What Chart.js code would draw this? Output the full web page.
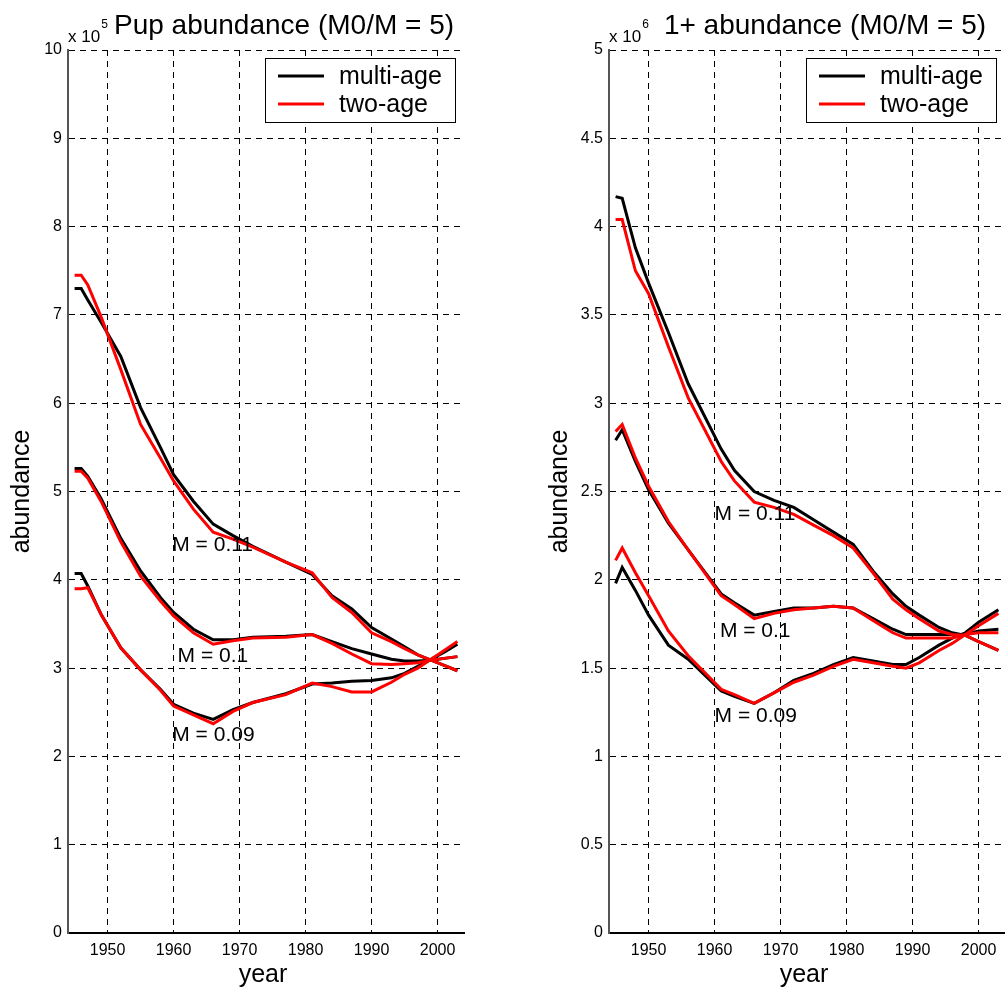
<!DOCTYPE html>
<html>
<head>
<meta charset="utf-8">
<script src="https://cdn.jsdelivr.net/npm/chart.js@4"></script>
<style>
body{margin:0;background:#fff;}
#wrap{position:relative;width:1005px;height:994px;overflow:hidden;background:#fff;}
#pup{position:absolute;left:0;top:0;}
#adult{position:absolute;left:541px;top:0;}
</style>
</head>
<body>
<div id="wrap">
<canvas id="pup" width="520" height="994"></canvas>
<canvas id="adult" width="464" height="994"></canvas>
</div>
<script>
// pup abundance, units of 10^5
const yearsPup = [1945,1946,1947,1949,1952,1955,1958,1960,1963,1966,1969,1972,1977,1981,1984,1987,1990,1993,1995,1997,1999,2001,2003];
const pupMulti11 = [7.30,7.30,7.17,6.92,6.53,5.95,5.50,5.19,4.89,4.63,4.50,4.38,4.20,4.06,3.82,3.67,3.46,3.33,3.24,3.15,3.09,3.03,2.97];
const pupTwo11   = [7.45,7.45,7.34,6.98,6.38,5.76,5.38,5.12,4.80,4.54,4.46,4.37,4.20,4.08,3.80,3.63,3.40,3.30,3.22,3.15,3.09,3.03,2.97];
const pupMulti10 = [5.26,5.26,5.17,4.92,4.47,4.10,3.80,3.63,3.44,3.32,3.32,3.35,3.36,3.38,3.30,3.22,3.16,3.10,3.08,3.08,3.09,3.11,3.13];
const pupTwo10   = [5.23,5.23,5.15,4.89,4.43,4.04,3.76,3.59,3.40,3.27,3.31,3.34,3.35,3.38,3.28,3.16,3.05,3.04,3.05,3.06,3.09,3.11,3.13];
const pupMulti09 = [4.07,4.07,3.93,3.61,3.23,2.98,2.76,2.59,2.49,2.42,2.53,2.61,2.71,2.82,2.83,2.85,2.86,2.89,2.94,3.02,3.10,3.18,3.27];
const pupTwo09   = [3.90,3.90,3.91,3.61,3.23,2.98,2.75,2.57,2.47,2.37,2.51,2.61,2.70,2.83,2.79,2.73,2.73,2.84,2.93,3.00,3.10,3.20,3.30];

// 1+ abundance, units of 10^6
const yearsAdult = [1945,1946,1948,1950,1953,1956,1961,1963,1966,1969,1972,1975,1978,1981,1984,1987,1989,1991,1994,1996,1998,2000,2003];
const adultMulti11 = [4.17,4.16,3.88,3.68,3.40,3.11,2.74,2.62,2.50,2.45,2.41,2.34,2.27,2.20,2.05,1.92,1.85,1.80,1.73,1.70,1.685,1.65,1.60];
const adultTwo11   = [4.04,4.04,3.75,3.62,3.32,3.03,2.67,2.56,2.44,2.41,2.37,2.31,2.25,2.18,2.04,1.89,1.83,1.78,1.71,1.69,1.685,1.65,1.60];
const adultMulti10 = [2.79,2.85,2.67,2.51,2.32,2.17,1.92,1.87,1.80,1.82,1.84,1.84,1.85,1.84,1.78,1.72,1.69,1.69,1.69,1.69,1.69,1.71,1.72];
const adultTwo10   = [2.84,2.88,2.69,2.53,2.33,2.17,1.91,1.86,1.78,1.81,1.83,1.84,1.85,1.84,1.77,1.70,1.67,1.67,1.67,1.67,1.69,1.70,1.70];
const adultMulti09 = [1.98,2.07,1.94,1.80,1.63,1.55,1.37,1.34,1.30,1.36,1.43,1.47,1.52,1.56,1.54,1.52,1.52,1.56,1.63,1.67,1.70,1.76,1.83];
const adultTwo09   = [2.11,2.18,2.04,1.91,1.71,1.57,1.38,1.35,1.30,1.36,1.42,1.46,1.51,1.55,1.53,1.51,1.50,1.53,1.60,1.64,1.69,1.74,1.81];

const xTickYears = [1950, 1960, 1970, 1980, 1990, 2000];
const seriesNames = ['multi-age', 'two-age'];
const mText = ['M = 0.11', 'M = 0.1', 'M = 0.09'];
const pupLabelYear = [1959.8, 1960.6, 1959.8];
const pupLabelVal = [4.39, 3.14, 2.24];
const adultLabelYear = [1960, 1960.8, 1960];
const adultLabelVal = [2.37, 1.71, 1.23];

const FONT = '"Liberation Sans", Arial, Helvetica, sans-serif';

function pts(xs, ys) {
  return xs.map((x, i) => ({x: x, y: ys[i]}));
}

// titles, exponent, axis labels, M labels and legend
const deco = {
  id: 'deco',
  afterDraw(chart, args, o) {
    const ctx = chart.ctx, a = chart.chartArea;
    const xs = chart.scales.x, ys = chart.scales.y;
    ctx.save();
    ctx.fillStyle = '#000';
    ctx.textAlign = 'center';
    ctx.textBaseline = 'alphabetic';
    ctx.font = '28px ' + FONT;
    ctx.fillText(o.title, a.left + 216, 34);

    ctx.textAlign = 'left';
    ctx.font = '17px ' + FONT;
    ctx.fillText('x 10', a.left, 42);
    const w = ctx.measureText('x 10').width;
    ctx.font = '12px ' + FONT;
    ctx.fillText(o.exp, a.left + w + 1, 28);

    ctx.font = '25px ' + FONT;
    ctx.textAlign = 'center';
    ctx.fillText('year', (a.left + a.right) / 2 - 3, 982);
    ctx.save();
    ctx.translate(a.left - o.ylabOff, (a.top + a.bottom) / 2);
    ctx.rotate(-Math.PI / 2);
    ctx.textBaseline = 'middle';
    ctx.fillText('abundance', 0, 0);
    ctx.restore();

    ctx.font = '21px ' + FONT;
    ctx.textAlign = 'left';
    ctx.textBaseline = 'middle';
    mText.forEach((t, i) => {
      ctx.fillText(t, xs.getPixelForValue(o.labYear[i]), ys.getPixelForValue(o.labVal[i]));
    });

    // legend box
    const lx = a.left + 197, ly = 58, lw = 190, lh = 64;
    ctx.fillStyle = '#fff';
    ctx.fillRect(lx, ly, lw, lh);
    ctx.strokeStyle = '#000';
    ctx.lineWidth = 1;
    ctx.strokeRect(lx + 0.5, ly + 0.5, lw, lh);
    const cols = [chart.data.datasets[1].borderColor, chart.data.datasets[0].borderColor];
    ctx.font = '25px ' + FONT;
    seriesNames.forEach((n, i) => {
      const y = ly + 18 + i * 28;
      ctx.strokeStyle = cols[i];
      ctx.lineWidth = 3;
      ctx.beginPath();
      ctx.moveTo(lx + 13, y);
      ctx.lineTo(lx + 59, y);
      ctx.stroke();
      ctx.fillStyle = '#000';
      ctx.fillText(n, lx + 74, y + 1);
    });
    ctx.restore();
  }
};

function makeChart(id, years, multi, two, ymax, step, deco_opts) {
  const ds = [];
  for (let i = 0; i < 3; i++) {
    ds.push({label: 'two-age', data: pts(years, two[i]), borderColor: '#ff0000', order: 0});
    ds.push({label: 'multi-age', data: pts(years, multi[i]), borderColor: '#000000', order: 1});
  }
  ds.forEach(d => { d.borderWidth = 3; d.pointRadius = 0; d.fill = false; d.tension = 0; });

  return new Chart(document.getElementById(id), {
    type: 'line',
    data: {datasets: ds},
    options: {
      responsive: false,
      animation: false,
      devicePixelRatio: 1,
      layout: {padding: {top: 50, left: 0, right: deco_opts.padRight, bottom: 0}},
      plugins: {legend: {display: false}, tooltip: {enabled: false}, deco: deco_opts},
      scales: {
        x: {
          type: 'linear', min: 1944, max: 2004,
          afterBuildTicks: s => { s.ticks = xTickYears.map(v => ({value: v})); },
          ticks: {autoSkip: false, maxRotation: 0,
            callback: v => String(v), color: '#000', font: {family: FONT, size: 16}, padding: 8},
          grid: {color: '#000', lineWidth: 1, drawTicks: false},
          border: {color: '#000', width: 2, dash: [6, 5]},
          afterFit: s => { s.height = 61; s.paddingLeft = 0; s.paddingRight = 0; }
        },
        y: {
          min: 0, max: ymax,
          ticks: {stepSize: step, callback: v => String(+v.toFixed(1)), color: '#000',
            font: {family: FONT, size: 16}, padding: 6},
          grid: {color: '#000', lineWidth: 1, drawTicks: false},
          border: {color: '#555', width: 2, dash: [6, 5]},
          afterFit: s => { s.width = 68; s.paddingTop = 0; s.paddingBottom = 0; }
        }
      }
    },
    plugins: [deco]
  });
}

makeChart('pup', yearsPup, [pupMulti11, pupMulti10, pupMulti09], [pupTwo11, pupTwo10, pupTwo09], 10, 1,
  {title: 'Pup abundance (M0/M = 5)', exp: '5', ylabOff: 46, padRight: 56,
   labYear: pupLabelYear, labVal: pupLabelVal});
makeChart('adult', yearsAdult, [adultMulti11, adultMulti10, adultMulti09], [adultTwo11, adultTwo10, adultTwo09], 5, 0.5,
  {title: '1+ abundance (M0/M = 5)', exp: '6', ylabOff: 49, padRight: 0,
   labYear: adultLabelYear, labVal: adultLabelVal});
</script>
</body>
</html>
